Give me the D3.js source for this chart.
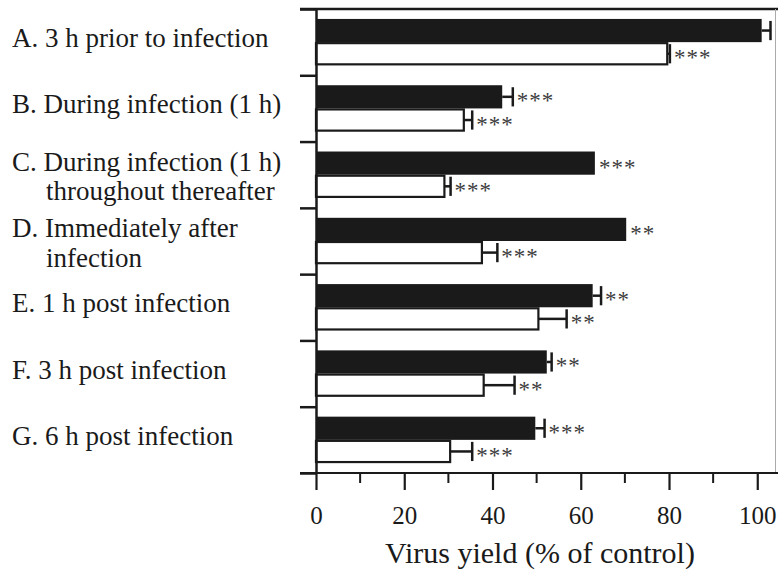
<!DOCTYPE html>
<html>
<head>
<meta charset="utf-8">
<script src="https://d3js.org/d3.v7.min.js"></script>
<style>
  body { margin: 0; background: #fff; }
  text { font-family: "Liberation Serif", "Times New Roman", serif; }
</style>
</head>
<body>
<div id="chart"></div>
<script>
// category labels (one entry per line)
var categories = [
  ["A. 3 h prior to infection"],
  ["B. During infection (1 h)"],
  ["C. During infection (1 h)", "throughout thereafter"],
  ["D. Immediately after", "infection"],
  ["E. 1 h post infection"],
  ["F. 3 h post infection"],
  ["G. 6 h post infection"]
];
// filled (black) bars
var filledValues = [101.0, 42.2, 63.2, 70.3, 62.7, 52.3, 49.7];
var filledErrors = [2.0, 2.4, 0, 0, 1.9, 1.1, 2.1];
var filledSig = ["", "***", "***", "**", "**", "**", "***"];
// open (white) bars
var openValues = [79.6, 33.5, 29.1, 37.6, 50.4, 38.0, 30.4];
var openErrors = [0.6, 1.9, 1.4, 3.5, 6.4, 7.0, 5.0];
var openSig = ["***", "***", "***", "***", "**", "**", "***"];
var xTicks = [0, 20, 40, 60, 80, 100];
var xMinorTicks = [10, 30, 50, 70, 90];

var width = 778, height = 571;
var plotLeft = 316, plotRight = 778, plotTop = 9, plotBottom = 473;

var svg = d3.select("#chart").append("svg")
  .attr("width", width)
  .attr("height", height);

var x = d3.scaleLinear().domain([0, 104.7]).range([plotLeft, plotRight]);

var idx = d3.range(categories.length);
var y = d3.scaleBand().domain(idx).range([plotTop, plotBottom])
  .paddingInner(0.3).paddingOuter(0.15);
var ySub = d3.scaleBand().domain(["filled", "open"]).range([0, y.bandwidth()]);
var yEdge = d3.scaleLinear().domain([0, categories.length]).range([plotTop, plotBottom]);

// build rows
var rows = [];
idx.forEach(function(i) {
  rows.push({cat: i, kind: "filled", v: filledValues[i], e: filledErrors[i], sig: filledSig[i]});
  rows.push({cat: i, kind: "open", v: openValues[i], e: openErrors[i], sig: openSig[i]});
});

var g = svg.append("g");

// bars
g.selectAll("rect.bar")
  .data(rows)
  .enter().append("rect")
  .attr("class", "bar")
  .attr("x", x(0))
  .attr("y", function(d) { return y(d.cat) + ySub(d.kind) + (d.kind == "open" ? 1 : 0); })
  .attr("width", function(d) { return x(d.v) - x(0); })
  .attr("height", function(d) { return ySub.bandwidth() - (d.kind == "open" ? 2 : 0); })
  .style("fill", function(d) { return d.kind == "filled" ? "#1a1a1a" : "#fff"; })
  .style("stroke", "#1a1a1a")
  .style("stroke-width", function(d) { return d.kind == "open" ? 2.2 : 0; });

// error bars
var err = rows.filter(function(d) { return d.e > 0; });
g.selectAll("line.err")
  .data(err)
  .enter().append("line")
  .attr("x1", function(d) { return x(d.v); })
  .attr("x2", function(d) { return x(d.v + d.e); })
  .attr("y1", function(d) { return y(d.cat) + ySub(d.kind) + ySub.bandwidth() / 2; })
  .attr("y2", function(d) { return y(d.cat) + ySub(d.kind) + ySub.bandwidth() / 2; })
  .style("stroke", "#1a1a1a")
  .style("stroke-width", 2.5);
g.selectAll("line.cap")
  .data(err)
  .enter().append("line")
  .attr("x1", function(d) { return x(d.v + d.e); })
  .attr("x2", function(d) { return x(d.v + d.e); })
  .attr("y1", function(d) { return y(d.cat) + ySub(d.kind) + 2; })
  .attr("y2", function(d) { return y(d.cat) + ySub(d.kind) + ySub.bandwidth() - 2; })
  .style("stroke", "#1a1a1a")
  .style("stroke-width", 2.5);

// significance stars
g.selectAll("text.sig")
  .data(rows.filter(function(d) { return d.sig; }))
  .enter().append("text")
  .attr("x", function(d) { return x(d.v + d.e) + 4; })
  .attr("y", function(d) { return y(d.cat) + ySub(d.kind) + ySub.bandwidth() / 2 + 11.5; })
  .attr("font-size", "23px")
  .style("letter-spacing", "1px")
  .style("fill", "#3c3c3c")
  .text(function(d) { return d.sig; });

// frame: top and right
svg.append("line")
  .attr("x1", plotLeft - 16).attr("x2", plotRight).attr("y1", plotTop).attr("y2", plotTop)
  .style("stroke", "#1a1a1a").style("stroke-width", 2.5);
svg.append("line")
  .attr("x1", plotRight - 2.5).attr("x2", plotRight - 2.5).attr("y1", plotTop).attr("y2", plotBottom)
  .style("stroke", "#aaa").style("stroke-width", 1);

// left axis with ticks at category boundaries
var yAxis = svg.append("g")
  .attr("transform", "translate(" + plotLeft + ",0)")
  .call(d3.axisLeft(yEdge).tickValues(d3.range(categories.length + 1))
    .tickFormat("").tickSizeInner(16).tickSizeOuter(0));
yAxis.selectAll("path, line").style("stroke", "#1a1a1a").style("stroke-width", 2.5);

// bottom axis
var xAxis = svg.append("g")
  .attr("transform", "translate(0," + plotBottom + ")")
  .call(d3.axisBottom(x).tickValues(xTicks).tickSizeInner(17).tickSizeOuter(0).tickPadding(16));
xAxis.select(".domain").attr("d", "M" + (plotLeft - 16) + ",0H" + plotRight);
xAxis.selectAll("path, line").style("stroke", "#1a1a1a").style("stroke-width", 2.2);
xAxis.attr("font-family", null).attr("font-size", null);
xAxis.selectAll("text")
  .style("font-family", "Liberation Serif, serif")
  .style("font-size", "25px")
  .style("fill", "#1a1a1a");
svg.append("g")
  .attr("transform", "translate(0," + plotBottom + ")")
  .selectAll("line")
  .data(xMinorTicks)
  .enter().append("line")
  .attr("x1", function(d) { return x(d); })
  .attr("x2", function(d) { return x(d); })
  .attr("y1", 0).attr("y2", 10)
  .style("stroke", "#1a1a1a").style("stroke-width", 2);

// x axis title
svg.append("text")
  .attr("x", 540)
  .attr("y", 563)
  .attr("text-anchor", "middle")
  .attr("font-size", "30px")
  .style("fill", "#1a1a1a")
  .text("Virus yield (% of control)");

// category labels
var labels = svg.selectAll("text.cat")
  .data(categories)
  .enter().append("text")
  .attr("class", "cat")
  .attr("font-size", "27px")
  .style("fill", "#1a1a1a")
  .attr("y", function(d, i) {
    var c = y(i) + y.bandwidth() / 2;
    return d.length > 1 ? c - 4 : c + 5;
  });
labels.selectAll("tspan")
  .data(function(d) { return d; })
  .enter().append("tspan")
  .attr("x", function(d, j) { return j == 0 ? 12 : 46; })
  .attr("dy", function(d, j) { return j == 0 ? 0 : 29.5; })
  .text(function(d) { return d; });
</script>
</body>
</html>
